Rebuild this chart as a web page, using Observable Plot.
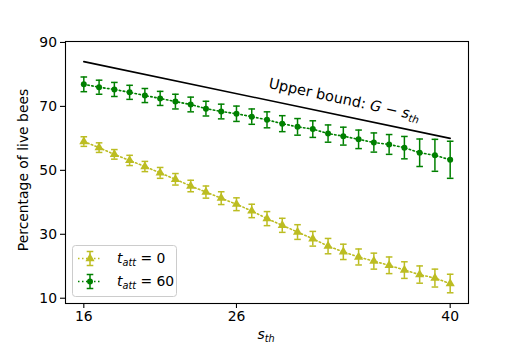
<!DOCTYPE html>
<html><head><meta charset="utf-8">
<script src="https://cdn.jsdelivr.net/npm/d3@7"></script>
<script src="https://cdn.jsdelivr.net/npm/@observablehq/plot@0.6"></script>
<style>body{margin:0;background:#fff}</style>
</head><body><div id="chart"></div>
<script>
// ---- data ----
const sTh = [16,17,18,19,20,21,22,23,24,25,26,27,28,29,30,31,32,33,34,35,36,37,38,39,40];
const live0 = [59.0,57.1,55.0,53.1,51.2,49.2,47.2,45.1,43.2,41.3,39.4,37.3,34.9,32.8,30.7,28.6,26.3,24.5,22.9,21.6,20.3,18.8,17.4,16.3,14.6];
const err0  = [1.5,1.5,1.5,1.6,1.6,1.7,1.8,1.8,1.9,2.0,2.0,2.1,2.2,2.2,2.3,2.3,2.4,2.4,2.5,2.5,2.6,2.6,2.7,2.8,2.9];
const live60 = [76.9,76.0,75.3,74.4,73.4,72.5,71.5,70.6,69.3,68.4,67.7,66.8,65.8,64.6,63.6,62.9,61.5,60.7,59.7,58.7,58.1,57.1,55.5,54.7,53.3];
const err60  = [2.3,2.2,2.2,2.2,2.2,2.2,2.3,2.3,2.3,2.3,2.4,2.4,2.5,2.5,2.6,2.6,2.7,2.8,2.9,3.0,3.1,3.5,4.3,5.0,5.8];
const G = 100;
const boundX = [16, 40];
const boundY = [84, 60];
const xTicks = [16, 26, 40];
const yTicks = [10, 30, 50, 70, 90];
const seriesLabels = ["0", "60"];
const boundLabel = {s: 33.1, v: 72.1};

const C0 = "#bcbd22", C60 = "#008000";
const rows = (vals, errs) => sTh.map((s, i) => ({s, v: vals[i], lo: vals[i] - errs[i], hi: vals[i] + errs[i]}));
const r0 = rows(live0, err0), r60 = rows(live60, err60);
const bound = boundX.map((s, i) => ({s, v: boundY[i]}));

const cap = {draw(ctx, size) { const r = Math.sqrt(size / Math.PI); ctx.moveTo(-r, 0); ctx.lineTo(r, 0); }};

function seriesMarks(data, color, symbol, r) {
  return [
    Plot.line(data, {x: "s", y: "v", stroke: color, strokeWidth: 1.6, strokeDasharray: "1.5,2.5"}),
    Plot.ruleX(data, {x: "s", y1: "lo", y2: "hi", stroke: color, strokeWidth: 1.5}),
    Plot.dot(data, {x: "s", y: "lo", symbol: cap, r: 3.3, fill: "none", stroke: color, strokeWidth: 1.5}),
    Plot.dot(data, {x: "s", y: "hi", symbol: cap, r: 3.3, fill: "none", stroke: color, strokeWidth: 1.5}),
    Plot.dot(data, {x: "s", y: "v", symbol, r, fill: color, stroke: "none"})
  ];
}

const plot = Plot.plot({
  width: 520, height: 346,
  marginLeft: 65, marginRight: 52, marginTop: 41, marginBottom: 43,
  style: {fontFamily: "DejaVu Sans", fontSize: "13.9px", color: "black", background: "white"},
  x: {domain: [14.8, 41.2]},
  y: {domain: [8.35, 90.3]},
  marks: [
    Plot.line(bound, {x: "s", y: "v", stroke: "black", strokeWidth: 1.6}),
    ...seriesMarks(r0, C0, "triangle", 3.4),
    ...seriesMarks(r60, C60, "circle", 3.0),
    Plot.axisX({ticks: xTicks, tickSize: 5, tickPadding: 3, label: null, strokeWidth: 1.1}),
    Plot.axisY({ticks: yTicks, tickSize: 5, tickPadding: 3.5, label: null, strokeWidth: 1.1}),
    Plot.frame({stroke: "black", strokeWidth: 1.1})
  ]
});
document.getElementById("chart").appendChild(plot);

const svg = d3.select(plot);
const sx = plot.scale("x"), sy = plot.scale("y");
const ff = "DejaVu Sans";

// upper bound annotation
{
  const px = sx.apply(boundLabel.s), py = sy.apply(boundLabel.v);
  const ang = Math.atan2(sy.apply(boundY[1]) - sy.apply(boundY[0]), sx.apply(boundX[1]) - sx.apply(boundX[0])) * 180 / Math.PI;
  const t = svg.append("text").attr("transform", `translate(${px},${py}) rotate(${ang + 0.5})`)
    .attr("text-anchor", "middle").attr("dy", "0.35em").attr("font-family", ff).attr("font-size", 14.5).attr("fill", "black");
  t.append("tspan").text("Upper bound: ");
  t.append("tspan").attr("font-style", "italic").text("G");
  t.append("tspan").text(" \u2212 ");
  t.append("tspan").attr("font-style", "italic").text("s");
  t.append("tspan").attr("font-style", "italic").attr("font-size", 10.2).attr("dy", 3).text("th");
}

// axis labels
{
  const t = svg.append("text").attr("x", 266).attr("y", 339).attr("text-anchor", "middle").attr("font-family", ff).attr("font-size", 13.9);
  t.append("tspan").attr("font-style", "italic").text("s");
  t.append("tspan").attr("font-style", "italic").attr("font-size", 9.7).attr("dy", 3).text("th");
  svg.append("text").attr("transform", "translate(28,170) rotate(-90)").attr("text-anchor", "middle")
    .attr("font-family", ff).attr("font-size", 13.9).text("Percentage of live bees");
}

// legend
{
  const g = svg.append("g");
  g.append("rect").attr("x", 72.5).attr("y", 245.5).attr("width", 104).attr("height", 51).attr("rx", 3)
    .attr("fill", "white").attr("fill-opacity", 0.8).attr("stroke", "#cccccc");
  const entries = [{c: C0, sym: d3.symbolTriangle, r: 3.4, lab: seriesLabels[0], y: 258.5}, {c: C60, sym: d3.symbolCircle, r: 3.0, lab: seriesLabels[1], y: 281.5}];
  for (const e of entries) {
    g.append("line").attr("x1", 78).attr("x2", 102).attr("y1", e.y).attr("y2", e.y).attr("stroke", e.c).attr("stroke-width", 1.6).attr("stroke-dasharray", "1.5,2.5");
    g.append("line").attr("x1", 90).attr("x2", 90).attr("y1", e.y - 7).attr("y2", e.y + 7).attr("stroke", e.c).attr("stroke-width", 1.5);
    for (const dy of [-7, 7]) g.append("line").attr("x1", 86.7).attr("x2", 93.3).attr("y1", e.y + dy).attr("y2", e.y + dy).attr("stroke", e.c).attr("stroke-width", 1.5);
    g.append("path").attr("transform", `translate(90,${e.y})`).attr("d", d3.symbol(e.sym, Math.PI * e.r * e.r)()).attr("fill", e.c);
    const t = g.append("text").attr("x", 117).attr("y", e.y).attr("dy", "0.35em").attr("text-anchor", "start").attr("font-family", ff).attr("font-size", 13.9);
    t.append("tspan").attr("font-style", "italic").text("t");
    t.append("tspan").attr("font-style", "italic").attr("font-size", 9.7).attr("dy", 3).text("att");
    t.append("tspan").attr("dy", -3).text(" = " + e.lab);
  }
}
</script>
</body></html>
